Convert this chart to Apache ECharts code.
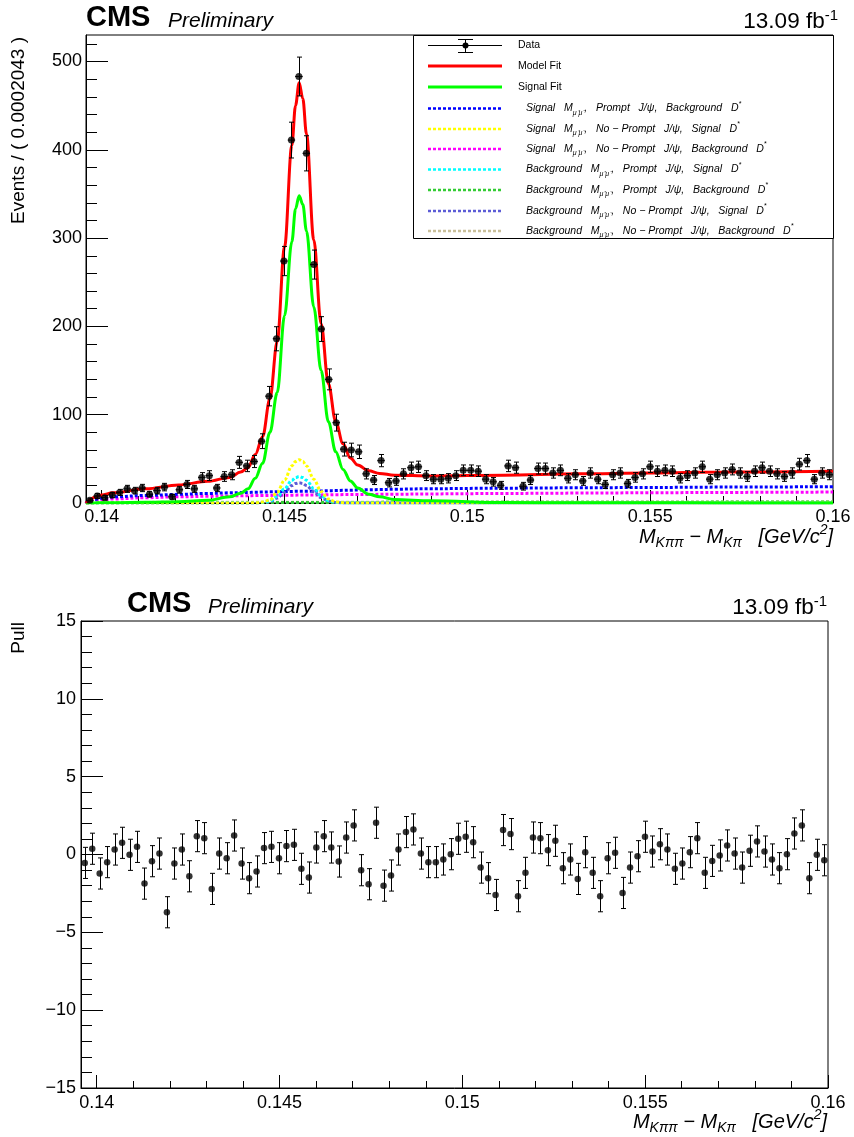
<!DOCTYPE html>
<html>
<head>
<meta charset="utf-8">
<script src="https://cdn.jsdelivr.net/npm/echarts@6/dist/echarts.min.js"></script>
<style>
  html, body { margin: 0; padding: 0; background: #fff; }
  #chart { width: 854px; height: 1137px; }
</style>
</head>
<body>
<div id="chart"></div>
<script>
// Binning of the mass difference M(Kππ) − M(Kπ) in GeV/c²
const xMin = 0.13957;
const xMax = 0.16;
const binWidth = 0.0002043;

// Events per bin (100 bins)
const events = [
  3, 8, 6, 9, 12, 16, 14, 17, 10, 14,
  18, 7, 15, 21, 16, 29, 31, 17, 30, 32,
  46, 42, 47, 70, 121, 186, 274, 411, 483, 396,
  270, 197, 140, 91, 61, 60, 58, 33, 26, 48,
  23, 25, 33, 40, 41, 31, 27, 27, 28, 31,
  37, 37, 36, 27, 24, 20, 42, 40, 19, 26,
  39, 39, 34, 37, 28, 32, 25, 34, 27, 21,
  32, 34, 22, 29, 33, 41, 36, 37, 36, 28,
  31, 34, 41, 27, 32, 34, 38, 34, 30, 36,
  40, 36, 33, 30, 34, 44, 48, 27, 34, 32
];

// Pull per bin
const pulls = [
  -0.54, 0.37, -1.22, -0.49, 0.32, 0.75, -0.02, 0.49, -1.87, -0.43,
  0.06, -3.71, -0.58, 0.32, -1.40, 1.18, 1.05, -2.21, 0.06, -0.24,
  1.22, -0.58, -1.52, -1.09, 0.41, 0.49, -0.24, 0.54, 0.62, -0.92,
  -1.48, 0.45, 1.18, 0.45, -0.45, 1.09, 1.87, -1.01, -1.91, 2.04,
  -2.00, -1.35, 0.32, 1.44, 1.61, 0.06, -0.49, -0.49, -0.32, 0.02,
  1.01, 1.14, 0.79, -0.84, -1.52, -2.60, 1.57, 1.31, -2.68, -1.18,
  1.09, 1.05, 0.28, 0.88, -0.88, -0.32, -1.57, 0.15, -1.18, -2.68,
  -0.24, 0.11, -2.47, -0.84, -0.11, 1.14, 0.19, 0.66, 0.32, -0.92,
  -0.58, 0.15, 1.05, -1.18, -0.41, -0.06, 0.58, 0.06, -0.84, 0.24,
  0.84, 0.19, -0.32, -0.88, 0.02, 1.35, 1.87, -1.52, -0.02, -0.37
];

// Sampling positions of the fitted curves
const curveX = [
  0.13957, 0.1396, 0.1398, 0.1400, 0.1403, 0.1412, 0.1421, 0.1429, 0.1435, 0.1438, 0.1440,
  0.1442, 0.1444, 0.1446, 0.1448, 0.1450, 0.1452, 0.1453, 0.1454, 0.1455, 0.1456, 0.1458,
  0.1460, 0.1462, 0.1464, 0.1466,
  0.1468, 0.1470, 0.1473, 0.1476, 0.1480, 0.1490, 0.1510, 0.1530, 0.1550, 0.1570, 0.1600
];

// Total model
const modelFit = [
  0, 1.5, 6.5, 9, 11.5, 16, 20.5, 24.5, 29, 35, 40,
  55, 75, 118, 183, 290, 405, 450, 476, 458, 418, 298,
  203, 135, 92, 67,
  51, 43, 36.5, 33.5, 31.5, 30.6, 31.5, 33, 34, 35, 36
];

// Signal component
const signalFit = [
  0, 0, 0.1, 0.2, 0.3, 0.8, 1.5, 3, 7, 11, 16,
  28, 45, 80, 125, 212, 296, 333, 348, 338, 308, 222,
  150, 92, 58, 38,
  25, 17, 10, 7, 4, 2.5, 0.5, 0.3, 0.2, 0.1, 0.1
];

// Signal M(μμ), prompt J/ψ, background D*
const sigPromptBkgD = [
  0, 1.5, 4, 5.5, 7, 8.5, 9.8, 10.8, 11.5, 11.8, 12,
  12.2, 12.4, 12.6, 12.8, 13, 13.1, 13.2, 13.2, 13.3, 13.3, 13.5,
  13.7, 13.9, 14.1, 14.3,
  14.5, 14.7, 15, 15.2, 15.6, 16.2, 16.8, 17.2, 17.6, 18, 18.5
];

// Signal M(μμ), non-prompt J/ψ, signal D*
const sigNonPromptSigD = [
  0, 0, 0, 0, 0, 0, 0, 0, 0, 0, 0,
  0.3, 1, 3.5, 12, 26, 42, 47, 49, 47, 42, 27,
  13, 4.6, 1.2, 0.3,
  0, 0, 0, 0, 0, 0, 0, 0, 0, 0, 0
];

// Signal M(μμ), non-prompt J/ψ, background D*
const sigNonPromptBkgD = [
  0, 1, 2.5, 3.5, 4.5, 6, 7, 7.6, 8, 8.2, 8.3,
  8.4, 8.5, 8.6, 8.7, 8.8, 8.9, 8.9, 9, 9, 9, 9.1,
  9.2, 9.3, 9.4, 9.5,
  9.5, 9.6, 9.7, 9.8, 9.9, 10.3, 10.8, 11.2, 11.6, 12, 12.4
];

// Background M(μμ), prompt J/ψ, signal D*
const bkgPromptSigD = [
  0, 0, 0, 0, 0, 0, 0, 0, 0, 0, 0,
  0.2, 0.6, 2.1, 7.3, 16, 25.7, 28.8, 30, 28.8, 25.7, 16.5,
  8, 2.8, 0.7, 0.2,
  0, 0, 0, 0, 0, 0, 0, 0, 0, 0, 0
];

// Background M(μμ), prompt J/ψ, background D*
const bkgPromptBkgD = [
  0, 0.2, 0.4, 0.5, 0.5, 0.6, 0.6, 0.7, 0.7, 0.7, 0.7,
  0.7, 0.7, 0.7, 0.7, 0.7, 0.7, 0.7, 0.7, 0.7, 0.7, 0.7,
  0.7, 0.7, 0.7, 0.7,
  0.7, 0.7, 0.7, 0.7, 0.8, 0.8, 0.8, 0.9, 0.9, 1, 1
];

// Background M(μμ), non-prompt J/ψ, signal D*
const bkgNonPromptSigD = [
  0, 0, 0, 0, 0, 0, 0, 0, 0, 0, 0,
  0.1, 0.5, 1.6, 5.6, 12.2, 19.7, 22, 23, 22, 19.7, 12.7,
  6.1, 2.2, 0.6, 0.1,
  0, 0, 0, 0, 0, 0, 0, 0, 0, 0, 0
];

// Background M(μμ), non-prompt J/ψ, background D*
const bkgNonPromptBkgD = [
  0, 0.2, 0.4, 0.5, 0.6, 0.7, 0.8, 0.8, 0.9, 0.9, 0.9,
  0.9, 0.9, 0.9, 0.9, 0.9, 0.9, 0.9, 0.9, 0.9, 0.9, 0.9,
  0.9, 0.9, 0.9, 0.9,
  0.9, 0.9, 0.9, 1, 1, 1, 1.1, 1.1, 1.2, 1.2, 1.2
];

// Axis ticks
const xTickValues = [0.14, 0.145, 0.15, 0.155, 0.16];
const xTickLabels = ['0.14', '0.145', '0.15', '0.155', '0.16'];
const xMinorTickValues = [
  0.141, 0.142, 0.143, 0.144, 0.146, 0.147, 0.148, 0.149,
  0.151, 0.152, 0.153, 0.154, 0.156, 0.157, 0.158, 0.159
];
const yEventTicks = [0, 100, 200, 300, 400, 500];
const yEventMinorTicks = [
  20, 40, 60, 80, 120, 140, 160, 180, 220, 240, 260, 280,
  320, 340, 360, 380, 420, 440, 460, 480, 520
];
const yPullTicks = [-15, -10, -5, 0, 5, 10, 15];
const yPullMinorTicks = [
  -14, -13, -12, -11, -9, -8, -7, -6, -4, -3, -2, -1,
  1, 2, 3, 4, 6, 7, 8, 9, 11, 12, 13, 14
];

const FONT = '"Liberation Sans", Arial, Helvetica, sans-serif';
const binCenters = events.map((_, i) => xMin + (i + 0.5) * binWidth);

function xLabel(v) {
  for (let i = 0; i < xTickValues.length; i++) {
    if (Math.abs(xTickValues[i] - v) < 1e-7) return xTickLabels[i];
  }
  return '';
}

function xAxesFor(gridIndex) {
  return [
    {
      gridIndex, type: 'value', min: xMin, max: xMax, position: 'bottom',
      axisLine: { show: true, onZero: false, lineStyle: { color: '#000', width: 1 } },
      axisTick: { show: true, inside: true, length: 13, customValues: xTickValues,
                  lineStyle: { color: '#000', width: 1 } },
      axisLabel: { show: true, customValues: xTickValues, formatter: xLabel,
                   fontSize: 18, fontFamily: FONT, color: '#000', margin: gridIndex === 0 ? 5 : 6 },
      splitLine: { show: false }
    },
    {
      gridIndex, type: 'value', min: xMin, max: xMax, position: 'bottom',
      axisLine: { show: false, onZero: false },
      axisTick: { show: true, inside: true, length: 7, customValues: xMinorTickValues,
                  lineStyle: { color: '#000', width: 1 } },
      axisLabel: { show: false },
      splitLine: { show: false }
    }
  ];
}

function yAxesFor(gridIndex, min, max, major, minor, margin) {
  return [
    {
      gridIndex, type: 'value', min, max, position: 'left',
      axisLine: { show: true, onZero: false, lineStyle: { color: '#000', width: 1 } },
      axisTick: { show: true, inside: true, length: 22, customValues: major,
                  lineStyle: { color: '#000', width: 1 } },
      axisLabel: { show: true, customValues: major, fontSize: 18, fontFamily: FONT,
                   color: '#000', margin, formatter: v => String(v).replace('-', '\u2212') },
      splitLine: { show: false }
    },
    {
      gridIndex, type: 'value', min, max, position: 'left',
      axisLine: { show: false, onZero: false },
      axisTick: { show: true, inside: true, length: 11, customValues: minor,
                  lineStyle: { color: '#000', width: 1 } },
      axisLabel: { show: false },
      splitLine: { show: false }
    }
  ];
}

function curveSeries(name, values, color, dotted, width, z) {
  return {
    name, type: 'line', xAxisIndex: 0, yAxisIndex: 0,
    data: curveX.map((x, i) => [x, values[i]]),
    showSymbol: false, symbol: 'none',
    smooth: 0.35, smoothMonotone: 'x',
    lineStyle: { color, width, type: dotted ? [3, 2] : 'solid', cap: 'butt' },
    z, silent: true, clip: true
  };
}

// Vertical error bar with end caps, optional horizontal bin-width bar
function errorBarItem(withWidth) {
  return function (params, api) {
    const x = api.value(0), y = api.value(1), e = api.value(2);
    const c = api.coord([x, y]);
    const hi = api.coord([x, y + e]);
    const lo = api.coord([x, y - e]);
    const st = { stroke: '#000', lineWidth: 1 };
    const cap = 2.5;
    const cx = Math.round(c[0]) + 0.5;
    const children = [
      { type: 'line', shape: { x1: cx, y1: hi[1], x2: cx, y2: lo[1] }, style: st },
      { type: 'line', shape: { x1: cx - cap, y1: hi[1], x2: cx + cap, y2: hi[1] }, style: st },
      { type: 'line', shape: { x1: cx - cap, y1: lo[1], x2: cx + cap, y2: lo[1] }, style: st }
    ];
    if (withWidth) {
      const l = api.coord([x - binWidth / 2, y]);
      const r = api.coord([x + binWidth / 2, y]);
      children.push({ type: 'line', shape: { x1: l[0], y1: c[1], x2: r[0], y2: c[1] }, style: st });
    }
    return { type: 'group', children };
  };
}

const legendRows = [
  { color: '#0000ff', text: '{it|Signal   M}{sub|μ⁺μ⁻}{it|,   Prompt   J/ψ,   Background   D}{sup|*}' },
  { color: '#ffff00', text: '{it|Signal   M}{sub|μ⁺μ⁻}{it|,   No − Prompt   J/ψ,   Signal   D}{sup|*}' },
  { color: '#ff00ff', text: '{it|Signal   M}{sub|μ⁺μ⁻}{it|,   No − Prompt   J/ψ,   Background   D}{sup|*}' },
  { color: '#00ffff', text: '{it|Background   M}{sub|μ⁺μ⁻}{it|,   Prompt   J/ψ,   Signal   D}{sup|*}' },
  { color: '#33cc33', text: '{it|Background   M}{sub|μ⁺μ⁻}{it|,   Prompt   J/ψ,   Background   D}{sup|*}' },
  { color: '#5c5cd6', text: '{it|Background   M}{sub|μ⁺μ⁻}{it|,   No − Prompt   J/ψ,   Signal   D}{sup|*}' },
  { color: '#c9bf9a', text: '{it|Background   M}{sub|μ⁺μ⁻}{it|,   No − Prompt   J/ψ,   Background   D}{sup|*}' }
];

const legendRich = {
  it: { fontFamily: FONT, fontStyle: 'italic', fontSize: 10.5, lineHeight: 16, fill: '#000' },
  sub: { fontFamily: FONT, fontStyle: 'italic', fontSize: 7, lineHeight: 7, verticalAlign: 'bottom', fill: '#000' },
  sup: { fontFamily: FONT, fontStyle: 'italic', fontSize: 7, lineHeight: 7, verticalAlign: 'top', fill: '#000' }
};

const titleRich = {
  m: { fontFamily: FONT, fontStyle: 'italic', fontSize: 20, lineHeight: 27, fill: '#000' },
  s: { fontFamily: FONT, fontStyle: 'italic', fontSize: 14, lineHeight: 14, verticalAlign: 'bottom', fill: '#000' },
  p: { fontFamily: FONT, fontStyle: 'italic', fontSize: 14, lineHeight: 14, verticalAlign: 'top', fill: '#000' }
};
const xTitleText = '{m|M}{s|Kππ}{m| − M}{s|Kπ}{m|   [GeV/c}{p|2}{m|]}';

const lumiRich = {
  n: { fontFamily: FONT, fontSize: 22.5, lineHeight: 28, fill: '#000' },
  u: { fontFamily: FONT, fontSize: 15, lineHeight: 15, verticalAlign: 'top', fill: '#000' }
};
const lumiText = '{n|13.09 fb}{u|-1}';

function headerTexts(cmsX, cmsY, prelimX, lumiX, lumiY) {
  return [
    { type: 'text', x: cmsX, y: cmsY, z: 50,
      style: { text: 'CMS', font: 'bold 29px ' + FONT, fill: '#000', align: 'left', verticalAlign: 'middle' } },
    { type: 'text', x: prelimX, y: cmsY + 3, z: 50,
      style: { text: 'Preliminary', font: 'italic 21px ' + FONT, fill: '#000', align: 'left', verticalAlign: 'middle' } },
    { type: 'text', x: lumiX, y: lumiY, z: 50,
      style: { text: lumiText, rich: lumiRich, align: 'right', verticalAlign: 'middle' } }
  ];
}

const graphics = [];
graphics.push(...headerTexts(86, 18, 168, 838, 22));
graphics.push(...headerTexts(127, 604, 208, 827, 608));

// Axis titles
graphics.push(
  { type: 'text', x: 19, y: 37, rotation: Math.PI / 2, z: 50,
    style: { text: 'Events / ( 0.0002043 )', font: '19px ' + FONT, fill: '#000', align: 'right', verticalAlign: 'middle' } },
  { type: 'text', x: 19, y: 622, rotation: Math.PI / 2, z: 50,
    style: { text: 'Pull', font: '19px ' + FONT, fill: '#000', align: 'right', verticalAlign: 'middle' } },
  { type: 'text', x: 833, y: 537, z: 50,
    style: { text: xTitleText, rich: titleRich, align: 'right', verticalAlign: 'middle' } },
  { type: 'text', x: 827, y: 1122, z: 50,
    style: { text: xTitleText, rich: titleRich, align: 'right', verticalAlign: 'middle' } }
);

// Legend box
const legX = 413.5, legY = 35.5, legW = 420, legH = 203;
const sampleX1 = 428, sampleX2 = 502;
const rowY = [45, 66, 87, 108.5, 129, 149, 169.5, 190, 211, 231];
const legChildren = [
  { type: 'rect', shape: { x: legX, y: legY, width: legW, height: legH },
    style: { fill: '#fff', stroke: '#000', lineWidth: 1 } },
  // data sample
  { type: 'line', shape: { x1: sampleX1, y1: rowY[0] + 0.5, x2: sampleX2, y2: rowY[0] + 0.5 }, style: { stroke: '#000', lineWidth: 1 } },
  { type: 'line', shape: { x1: 465.5, y1: rowY[0] - 6, x2: 465.5, y2: rowY[0] + 7 }, style: { stroke: '#000', lineWidth: 1 } },
  { type: 'line', shape: { x1: 458, y1: rowY[0] - 6 + 0.5, x2: 473, y2: rowY[0] - 6 + 0.5 }, style: { stroke: '#000', lineWidth: 1 } },
  { type: 'line', shape: { x1: 458, y1: rowY[0] + 7 + 0.5, x2: 473, y2: rowY[0] + 7 + 0.5 }, style: { stroke: '#000', lineWidth: 1 } },
  { type: 'circle', shape: { cx: 465.5, cy: rowY[0] + 0.5, r: 3 }, style: { fill: '#000' } },
  { type: 'text', x: 518, y: rowY[0], style: { text: 'Data', font: '10.5px ' + FONT, fill: '#000', verticalAlign: 'middle' } },
  // model / signal
  { type: 'line', shape: { x1: sampleX1, y1: rowY[1], x2: sampleX2, y2: rowY[1] }, style: { stroke: '#ff0000', lineWidth: 3 } },
  { type: 'text', x: 518, y: rowY[1], style: { text: 'Model Fit', font: '10.5px ' + FONT, fill: '#000', verticalAlign: 'middle' } },
  { type: 'line', shape: { x1: sampleX1, y1: rowY[2], x2: sampleX2, y2: rowY[2] }, style: { stroke: '#00ff00', lineWidth: 3 } },
  { type: 'text', x: 518, y: rowY[2], style: { text: 'Signal Fit', font: '10.5px ' + FONT, fill: '#000', verticalAlign: 'middle' } }
];
legendRows.forEach((r, i) => {
  const y = rowY[i + 3];
  legChildren.push(
    { type: 'line', shape: { x1: sampleX1, y1: y, x2: sampleX2, y2: y },
      style: { stroke: r.color, lineWidth: 2.5, lineDash: [3, 2] } },
    { type: 'text', x: 526, y: y, style: { text: r.text, rich: legendRich, verticalAlign: 'middle' } }
  );
});
graphics.push({ type: 'group', z: 40, children: legChildren });

const option = {
  animation: false,
  backgroundColor: '#fff',
  grid: [
    { left: 86, top: 35, width: 747, height: 468, show: true, borderColor: '#000', borderWidth: 1, backgroundColor: 'transparent' },
    { left: 81, top: 621, width: 747, height: 467, show: true, borderColor: '#000', borderWidth: 1, backgroundColor: 'transparent' }
  ],
  xAxis: [...xAxesFor(0), ...xAxesFor(1)],
  yAxis: [
    ...yAxesFor(0, 0, 530, yEventTicks, yEventMinorTicks, 4),
    ...yAxesFor(1, -15, 15, yPullTicks, yPullMinorTicks, 5)
  ],
  graphic: graphics,
  series: [
    curveSeries('Background M, No-Prompt J/psi, Background D*', bkgNonPromptBkgD, '#c9bf9a', true, 3, 2),
    curveSeries('Background M, Prompt J/psi, Background D*', bkgPromptBkgD, '#33cc33', true, 3, 2),
    curveSeries('Signal M, No-Prompt J/psi, Background D*', sigNonPromptBkgD, '#ff00ff', true, 3, 2),
    curveSeries('Signal M, Prompt J/psi, Background D*', sigPromptBkgD, '#0000ff', true, 3, 2),
    curveSeries('Background M, No-Prompt J/psi, Signal D*', bkgNonPromptSigD, '#5c5cd6', true, 3, 2),
    curveSeries('Background M, Prompt J/psi, Signal D*', bkgPromptSigD, '#00ffff', true, 3, 2),
    curveSeries('Signal M, No-Prompt J/psi, Signal D*', sigNonPromptSigD, '#ffff00', true, 3, 2),
    curveSeries('Signal Fit', signalFit, '#00ff00', false, 3, 3),
    curveSeries('Model Fit', modelFit, '#ff0000', false, 3, 4),
    {
      name: 'Data errors', type: 'custom', xAxisIndex: 0, yAxisIndex: 0,
      data: binCenters.map((x, i) => [x, events[i], Math.sqrt(events[i])]),
      encode: { x: 0, y: 1 }, renderItem: errorBarItem(true), z: 5, clip: true, silent: true
    },
    {
      name: 'Data', type: 'scatter', xAxisIndex: 0, yAxisIndex: 0,
      data: binCenters.map((x, i) => [x, events[i]]),
      symbol: 'circle', symbolSize: 7, itemStyle: { color: '#000' }, z: 6, silent: true
    },
    {
      name: 'Pull errors', type: 'custom', xAxisIndex: 2, yAxisIndex: 2,
      data: binCenters.map((x, i) => [x, pulls[i], 1]),
      encode: { x: 0, y: 1 }, renderItem: errorBarItem(false), z: 5, clip: true, silent: true
    },
    {
      name: 'Pull', type: 'scatter', xAxisIndex: 2, yAxisIndex: 2,
      data: binCenters.map((x, i) => [x, pulls[i]]),
      symbol: 'circle', symbolSize: 6.5, itemStyle: { color: '#000' }, z: 6, silent: true
    }
  ]
};

const chart = echarts.init(document.getElementById('chart'), null, { renderer: 'canvas' });
chart.setOption(option);
</script>
</body>
</html>
